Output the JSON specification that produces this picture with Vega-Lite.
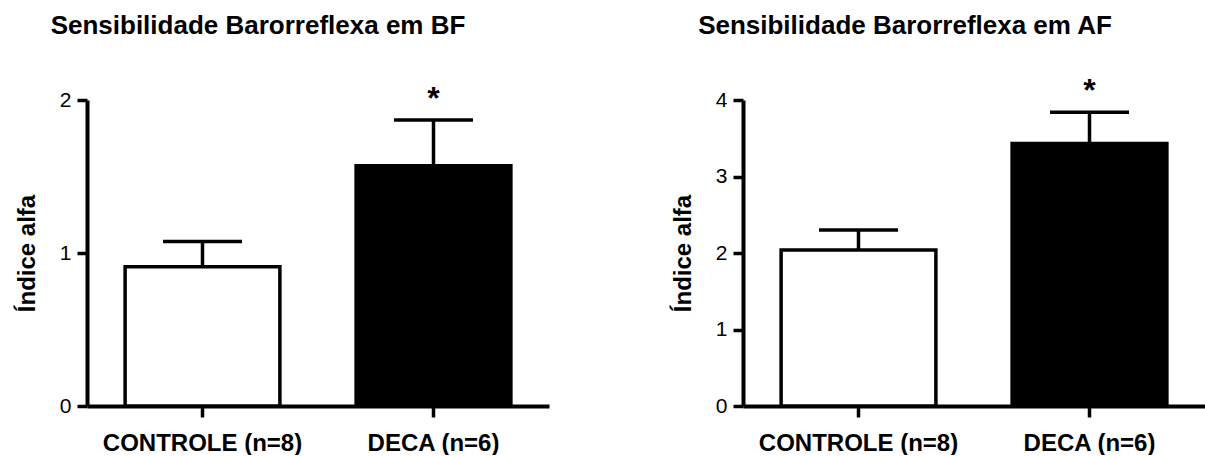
{
  "$schema": "https://vega.github.io/schema/vega-lite/v6.json",
  "background": "white",
  "padding": {"left": 15, "top": 12, "right": 0, "bottom": 0},
  "config": {
    "view": {"stroke": null},
    "font": "Liberation Sans",
    "concat": {"spacing": 122},
    "axis": {
      "domainColor": "black",
      "domainWidth": 4,
      "tickColor": "black",
      "tickWidth": 3.5,
      "grid": false,
      "labelColor": "black",
      "titleColor": "black",
      "labelLimit": 0
    },
    "axisY": {
      "tickSize": 10,
      "labelFontSize": 21,
      "labelPadding": 6,
      "titleFontSize": 24,
      "titleFontWeight": "bold",
      "titlePadding": 20,
      "format": "d"
    },
    "axisX": {
      "title": null,
      "labelAngle": 0,
      "tickSize": 11,
      "labelFontSize": 24,
      "labelFontWeight": "bold",
      "labelPadding": 14
    },
    "title": {"fontSize": 26, "fontWeight": "bold", "color": "black", "anchor": "middle", "frame": "group"}
  },
  "hconcat": [
    {
      "title": {"text": "Sensibilidade Barorreflexa em BF", "dx": -60, "offset": 44},
      "width": 462,
      "height": 306,
      "data": {"values": [
        {"grupo": "CONTROLE (n=8)", "media": 0.91, "erro": 1.075, "sig": ""},
        {"grupo": "DECA (n=6)", "media": 1.57, "erro": 1.87, "sig": "*"}
      ]},
      "encoding": {
        "x": {"field": "grupo", "type": "nominal", "sort": null, "scale": {"paddingInner": 0.33, "paddingOuter": 0.165}}
      },
      "layer": [
        {
          "mark": {"type": "bar", "stroke": "black", "strokeWidth": 3.5},
          "encoding": {
            "y": {"field": "media", "type": "quantitative", "title": "Índice alfa", "scale": {"domain": [0, 2]}, "axis": {"values": [0, 1, 2]}},
            "fill": {"field": "grupo", "type": "nominal", "sort": null, "scale": {"range": ["white", "black"]}, "legend": null}
          }
        },
        {
          "mark": {"type": "rule", "color": "black", "strokeWidth": 3.5},
          "encoding": {
            "y": {"field": "media", "type": "quantitative", "title": "Índice alfa"},
            "y2": {"field": "erro"}
          }
        },
        {
          "mark": {"type": "tick", "color": "black", "thickness": 3.5, "size": 79, "opacity": 1},
          "encoding": {"y": {"field": "erro", "type": "quantitative", "title": "Índice alfa"}}
        },
        {
          "mark": {"type": "text", "fontSize": 32, "fontWeight": "bold", "baseline": "bottom", "dy": -4, "color": "black"},
          "encoding": {
            "y": {"field": "erro", "type": "quantitative", "title": "Índice alfa"},
            "text": {"field": "sig"}
          }
        }
      ]
    },
    {
      "title": {"text": "Sensibilidade Barorreflexa em AF", "dx": -69, "offset": 36},
      "width": 462,
      "height": 306,
      "data": {"values": [
        {"grupo": "CONTROLE (n=8)", "media": 2.04, "erro": 2.3, "sig": ""},
        {"grupo": "DECA (n=6)", "media": 3.43, "erro": 3.84, "sig": "*"}
      ]},
      "encoding": {
        "x": {"field": "grupo", "type": "nominal", "sort": null, "scale": {"paddingInner": 0.33, "paddingOuter": 0.165}}
      },
      "layer": [
        {
          "mark": {"type": "bar", "stroke": "black", "strokeWidth": 3.5},
          "encoding": {
            "y": {"field": "media", "type": "quantitative", "title": "Índice alfa", "scale": {"domain": [0, 4]}, "axis": {"values": [0, 1, 2, 3, 4]}},
            "fill": {"field": "grupo", "type": "nominal", "sort": null, "scale": {"range": ["white", "black"]}, "legend": null}
          }
        },
        {
          "mark": {"type": "rule", "color": "black", "strokeWidth": 3.5},
          "encoding": {
            "y": {"field": "media", "type": "quantitative", "title": "Índice alfa"},
            "y2": {"field": "erro"}
          }
        },
        {
          "mark": {"type": "tick", "color": "black", "thickness": 3.5, "size": 79, "opacity": 1},
          "encoding": {"y": {"field": "erro", "type": "quantitative", "title": "Índice alfa"}}
        },
        {
          "mark": {"type": "text", "fontSize": 32, "fontWeight": "bold", "baseline": "bottom", "dy": -4, "color": "black"},
          "encoding": {
            "y": {"field": "erro", "type": "quantitative", "title": "Índice alfa"},
            "text": {"field": "sig"}
          }
        }
      ]
    }
  ]
}
